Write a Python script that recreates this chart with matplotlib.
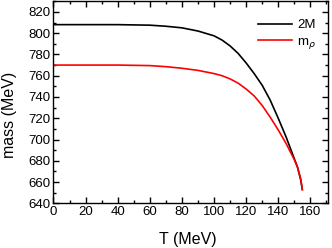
import matplotlib
matplotlib.use('Agg')
import matplotlib.pyplot as plt
from matplotlib.ticker import MultipleLocator

plt.rcParams['font.family'] = ['Liberation Sans', 'DejaVu Sans']

# values
T_2M = [0, 20, 40, 60, 70, 80, 90, 100, 105, 110, 115, 120, 125, 130, 135,
        140, 145, 148, 150, 152, 154, 155]
m_2M = [808, 808, 808, 807.5, 806.5, 805, 802, 797.5, 793.5, 788, 781, 772,
        762, 751, 737, 720, 702, 690, 682, 674, 662, 653]

T_rho = [0, 20, 40, 60, 70, 80, 90, 100, 105, 110, 115, 120, 125, 130, 135,
         140, 145, 148, 150, 152, 154, 155]
m_rho = [770, 770, 770, 769.5, 768.5, 767, 765, 762, 760, 757, 753, 747.5,
         741, 732, 721, 709, 696, 687, 681, 674, 663, 653]

fig = plt.figure(figsize=(3.32, 2.48), dpi=100)
ax = fig.add_axes([0.161, 0.18, 0.827, 0.815])

ax.plot(T_2M, m_2M, color='black', lw=1.2, label='2M')
ax.plot(T_rho, m_rho, color='#ff0000', lw=1.2, label=r'm$_\rho$')

ax.set_xlim(0, 171)
ax.set_ylim(640, 830)
ax.xaxis.set_major_locator(MultipleLocator(20))
ax.xaxis.set_minor_locator(MultipleLocator(10))
ax.yaxis.set_major_locator(MultipleLocator(20))
ax.yaxis.set_minor_locator(MultipleLocator(10))
ax.tick_params(which='both', direction='in', top=True, right=True,
               labelsize=9.5, width=1)
ax.tick_params(which='major', length=4, pad=2)
ax.tick_params(which='minor', length=2)
for s in ax.spines.values():
    s.set_linewidth(1.0)

ax.set_xlabel('T (MeV)', fontsize=11.5, labelpad=10)
ax.set_ylabel('mass (MeV)', fontsize=11.5, labelpad=8)
ax.yaxis.label.set_y(0.44)
ax.xaxis.label.set_x(0.49)

ax.legend(loc='upper right', frameon=False, fontsize=9.5, handlelength=2.6,
          handletextpad=0.4, labelspacing=0.3, bbox_to_anchor=(1.0, 0.97))

fig.savefig('out.png', dpi=100)
